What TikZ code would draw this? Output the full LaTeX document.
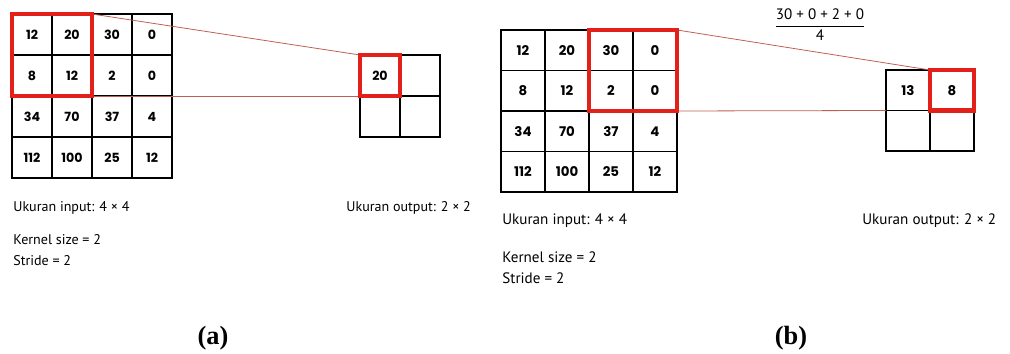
\documentclass[tikz,border=0pt]{standalone}
\usepackage{amsmath}
\usepackage{fontspec}
\setmainfont{PT Sans}
\newfontfamily\angka{Poppins}
\newfontfamily\judul{Liberation Serif}

\begin{document}
\begin{tikzpicture}[
    x=0.02cm, y=-0.02cm,
    sel/.style={draw=black, line width=0.6pt, inner sep=0pt, outer sep=0pt},
    selA/.style={sel, minimum width=0.8cm, minimum height=0.82cm, font=\angka\bfseries\fontsize{7.2}{8}\selectfont},
    selB/.style={sel, minimum width=0.88cm, minimum height=0.81cm, font=\angka\bfseries\fontsize{7.6}{8}\selectfont},
    kotak/.style={draw=kotakMerah, line width=2.3pt},
    garis/.style={draw=garisMerah, line width=0.45pt},
    teksA/.style={anchor=base west, inner sep=0pt, font=\fontsize{8}{9}\selectfont},
    teksB/.style={anchor=base west, inner sep=0pt, font=\fontsize{8.6}{10}\selectfont},
    label/.style={font=\judul\bfseries\fontsize{15}{17}\selectfont}
    ]
    % Warna
    \definecolor{kotakMerah}{RGB}{228, 32, 27}
    \definecolor{garisMerah}{RGB}{190, 95, 85}

    \useasboundingbox (0,0) rectangle (1010,354);

    % (a) Input 4x4
    \foreach \baris [count=\r] in {{12,20,30,0},{8,12,2,0},{34,70,37,4},{112,100,25,12}} {
        \foreach \v [count=\c] in \baris {
            \node[selA] (a\r\c) at ({12+40*\c-20}, {14+41*\r-20.5}) {\v};
        }
    }

    % (a) Output 2x2
    \node[selA] (oa11) at (380,75.5) {20};
    \node[selA, anchor=west] (oa12) at (oa11.east) {};
    \node[selA, anchor=north] (oa21) at (oa11.south) {};
    \node[selA, anchor=west] (oa22) at (oa21.east) {};

    % (a) Kernel dan garis
    \draw[garis] (a12.north east) -- (oa11.north west);
    \draw[garis] (a22.south east) -- (oa11.south west);
    \draw[kotak] (a11.north west) rectangle (a22.south east);
    \draw[kotak] (oa11.north west) rectangle (oa11.south east);

    % (a) Keterangan
    \node[teksA] (inA) at (13,212) {Ukuran input: 4 × 4};
    \node[teksA] (outA) at (346,212) {Ukuran output: 2 × 2};
    \node[teksA] (kernelA) at (13,245) {Kernel size = 2};
    \node[teksA] (strideA) at (13,266) {Stride = 2};
    \node[label] (capA) at (213,338) {(a)};

    % (b) Input 4x4
    \foreach \baris [count=\r] in {{12,20,30,0},{8,12,2,0},{34,70,37,4},{112,100,25,12}} {
        \foreach \v [count=\c] in \baris {
            \node[selB] (b\r\c) at ({501+44*\c-22}, {30+40.5*\r-20.25}) {\v};
        }
    }

    % (b) Output 2x2
    \node[selB] (ob11) at (908,90.25) {13};
    \node[selB, anchor=west] (ob12) at (ob11.east) {8};
    \node[selB, anchor=north] (ob21) at (ob11.south) {};
    \node[selB, anchor=west] (ob22) at (ob21.east) {};

    % (b) Kernel dan garis
    \draw[garis] (b14.north east) -- (ob12.north west);
    \draw[garis] (b24.south east) -- (ob11.south west);
    \draw[kotak] (b13.north west) rectangle (b24.south east);
    \draw[kotak] (ob12.north west) rectangle (ob12.south east);
    \node[font=\fontsize{8.6}{10}\selectfont] (rumus) at (820,25) {$\dfrac{\text{30 + 0 + 2 + 0}}{\text{4}}$};

    % (b) Keterangan
    \node[teksB] (inB) at (502,225) {Ukuran input: 4 × 4};
    \node[teksB] (outB) at (862,225) {Ukuran output: 2 × 2};
    \node[teksB] (kernelB) at (502,263) {Kernel size = 2};
    \node[teksB] (strideB) at (502,284) {Stride = 2};
    \node[label] (capB) at (791,338) {(b)};
\end{tikzpicture}
\end{document}
